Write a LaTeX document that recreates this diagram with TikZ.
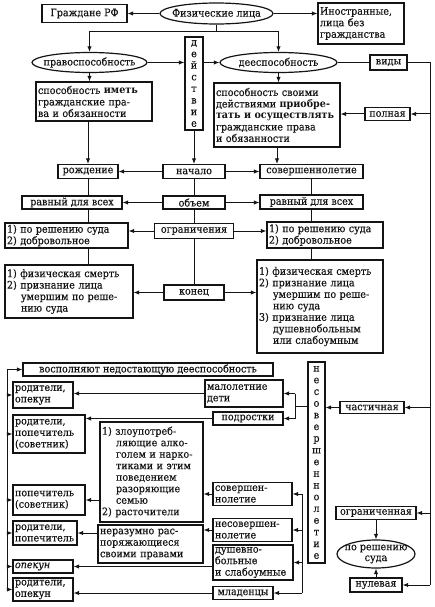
\documentclass[tikz,border=0pt]{standalone}
\usepackage{fontspec}
\setmainfont{DejaVu Serif}[FakeStretch=0.92, UprightFeatures={FakeBold=0.35}, ItalicFeatures={FakeBold=0.35}]
\usetikzlibrary{arrows.meta,shapes.geometric}
\definecolor{ink}{HTML}{141414}
\newcommand{\ff}{\fontsize{10.4}{11.5}\selectfont}
\newcommand{\fv}{\fontsize{10.4}{11.6}\selectfont}
\newcommand{\fvv}{\fontsize{10.4}{11.7}\selectfont}
\newcommand{\fe}{\fontsize{10.4}{10.8}\selectfont}
\newcommand{\hind}{\hspace*{1.344em}}
\newcommand{\zb}[1]{\makebox[0pt]{#1}}
\begin{document}
\begin{tikzpicture}[x=1pt,y=-1pt,
  every node/.style={text=ink},
  box/.style={draw=ink, line width=1.2pt, inner xsep=2pt, inner ysep=0.5pt, font=\ff, fill=white},
  lbox/.style={box, align=left},
  ell/.style={draw=ink, ellipse, line width=1.2pt, inner sep=0pt, font=\ff, fill=white},
  vbox/.style={box, align=center, inner xsep=0pt, inner ysep=0pt},
  arr/.style={draw=ink, line width=1pt, -{Latex[length=5.5pt,width=4.5pt]}},
  ln/.style={draw=ink, line width=1pt}]
\useasboundingbox[fill=white] (0,0) rectangle (434,607);

% ---------- top part ----------
\node[box, minimum width=85pt, minimum height=18pt] (grazh) at (84.5,13.5) {Граждане РФ};
\node[ell, minimum width=113pt, minimum height=21pt] (fiz) at (216.5,13.5) {\zb{Физические лица}};
\node[lbox, text width=82pt, minimum height=41pt] (inostr) at (361,23.5) {Иностранные,\\лица без\\гражданства};

\node[ell, minimum width=115pt, minimum height=20pt] (pravo) at (89.5,62.5) {\zb{правоспособность}};
\node[vbox, font=\fv, minimum width=18pt, minimum height=93pt] (deystv) at (194,83.5) {д\\е\\й\\с\\т\\в\\и\\е};
\node[ell, minimum width=117pt, minimum height=20pt] (deesp) at (278.5,62.5) {\zb{дееспособность}};
\node[box, minimum width=37pt, minimum height=15pt] (vidy) at (388.5,62.5) {виды};

\node[lbox, text width=112pt, minimum height=39pt] (spos1) at (94,101.5) {\mbox{способность \textbf{иметь}}\\\mbox{гражданские пра-}\\\mbox{ва и обязанности}};
\node[lbox, text width=122pt, minimum height=64pt] (spos2) at (277,115) {\mbox{способность своими}\\\mbox{действиями \textbf{приобре-}}\\\mbox{\textbf{тать и осуществлять}}\\\mbox{гражданские права}\\\mbox{и обязанности}};
\node[box, minimum width=45pt, minimum height=13pt] (polnaya) at (387.5,114) {полная};

\node[box, minimum width=60pt, minimum height=14pt] (rozhd) at (88,171.5) {рождение};
\node[box, minimum width=62pt, minimum height=14pt] (nachalo) at (194,171.5) {начало};
\node[box, minimum width=103pt, minimum height=14pt] (sovnol) at (311.5,171.5) {совершеннолетие};

\node[box, minimum width=100pt, minimum height=13pt] (ravn1) at (72,202.5) {равный для всех};
\node[box, minimum width=62pt, minimum height=13pt] (obem) at (194,202.5) {объем};
\node[box, minimum width=103pt, minimum height=14pt] (ravn2) at (311.5,202) {равный для всех};

\node[lbox, text width=119pt, minimum height=25pt] (ogr1) at (66.5,235.5) {1) по решению суда\\2) добровольное};
\node[box, minimum width=79pt, minimum height=15pt] (ogranich) at (194,231) {ограничения};
\node[lbox, text width=112pt, minimum height=26pt] (ogr2) at (325,235) {1) по решению суда\\2) добровольное};

\node[lbox, text width=124pt, minimum height=53pt] (smert1) at (69,291.5) {\mbox{1) физическая смерть}\\2) признание лица\\\hind умершим по реше-\\\hind нию суда};
\node[box, minimum width=60pt, minimum height=15pt] (konec) at (194,292.5) {конец};
\node[lbox, text width=122pt, minimum height=93pt] (smert2) at (320,306.5) {\mbox{1) физическая смерть}\\2) признание лица\\\hind умершим по реше-\\\hind нию суда\\3) признание лица\\\hind душевнобольным\\\hind или слабоумным};

% ---------- lower part ----------
\node[box, minimum width=250pt, minimum height=13pt] (vospoln) at (148,369.5) {восполняют недостающую дееспособность};

\node[lbox, text width=56pt, minimum height=26pt] (rodop1) at (43,395) {родители,\\опекун};
\node[lbox, text width=68pt, minimum height=38pt] (rodpopsov) at (49,434) {родители,\\попечитель\\(советник)};
\node[lbox, text width=68pt, minimum height=30pt] (popsov) at (49,500) {попечитель\\(советник)};
\node[lbox, text width=60pt, minimum height=24pt] (rodpop) at (45,533) {родители,\\попечитель};
\node[lbox, text width=56pt, minimum height=13pt] (opekun) at (43,566.5) {\textit{опекун}};
\node[lbox, text width=56pt, minimum height=23pt] (rodop2) at (43,589.5) {родители,\\опекун};

\node[lbox, text width=99pt, minimum height=100pt] (alk) at (151.5,472) {1) злоупотреб-\\\hind ляющие алко-\\\hind голем и нарко-\\\hind тиками и этим\\\hind поведением\\\hind разоряющие\\\hind семью\\2) расточители};
\node[lbox, text width=101pt, minimum height=38pt] (nerazum) at (150.5,544) {\mbox{неразумно рас-}\\поряжающиеся\\\mbox{своими правами}};

\node[lbox, text width=74pt, minimum height=27pt] (malol) at (244,393.5) {малолетние\\дети};
\node[box, minimum width=70pt, minimum height=13pt] (podr) at (248,418.5) {подростки};
\node[lbox, text width=75pt, minimum height=23pt] (sovnol2) at (252.5,494) {совершен-\\нолетие};
\node[lbox, text width=75pt, minimum height=23pt] (nesov2) at (252.5,530) {несовершен-\\нолетие};
\node[lbox, text width=76pt, minimum height=35pt] (dushev) at (253,562.5) {душевно-\\больные\\\mbox{и слабоумные}};
\node[box, minimum width=60pt, minimum height=13pt] (mlad) at (243,593) {младенцы};

\node[vbox, font=\fvv, minimum width=17pt, minimum height=201pt] (nesov) at (316.5,462.5) {н\\е\\с\\о\\в\\е\\р\\ш\\е\\н\\н\\о\\л\\е\\т\\и\\е};

\node[box, minimum width=64pt, minimum height=12pt] (chast) at (372,407.5) {частичная};
\node[box, minimum width=80pt, minimum height=13pt] (ogran) at (376,513) {ограниченная};
\node[ell, minimum width=78pt, minimum height=28pt] (posud) at (376,554) {};
\node[font=\fe, align=center, inner sep=0pt] (posudt) at (posud.center) {по решению\\суда};
\node[box, minimum width=52pt, minimum height=14pt] (nul) at (376,585) {нулевая};

% ---------- coordinates ----------
\coordinate (j) at (216.5,32);
\coordinate (rv) at (430,62.5);
\coordinate (rb) at (430,585);
\coordinate (lt) at (7,369.5);
\coordinate (lb) at (7,589.5);
\coordinate (ubt) at (295,393.5);
\coordinate (ubm) at (295,406);
\coordinate (ubb) at (295,418.5);
\coordinate (lbt) at (302,494);
\coordinate (lbb) at (302,593);

% ---------- connectors top ----------
\draw[arr] (fiz.west) -- (grazh.east);
\draw[arr] (fiz.east) -- (fiz.east -| inostr.west);
\draw[ln] (fiz.south) -- (j);
\draw[arr] (j) -| (pravo.north);
\draw[arr] (j) -| (deesp.north);
\draw[arr] (pravo.east) -- (pravo.east -| deystv.west);
\draw[arr] (deesp.west -| deystv.east) -- (deesp.west);
\draw[ln] (deesp.east) -- (vidy.west);
\draw[ln] (vidy.east) -- (rv) -- (rb);
\draw[arr] (rb) -- (nul.east);
\draw[arr] (rv |- polnaya.east) -- (polnaya.east);
\draw[arr] (polnaya.west) -- (polnaya.west -| spos2.east);
\draw[arr] (rv |- chast.east) -- (chast.east);
\draw[arr] (chast.west) -- (chast.west -| nesov.east);
\draw[arr] (rv |- ogran.east) -- (ogran.east);
\draw[arr] (ogran.south) -- (posud.north);
\draw[arr] (nul.north) -- (posud.south);

\draw[arr] (pravo.south) -- (pravo.south |- spos1.north);
\draw[arr] (deesp.south) -- (deesp.south |- spos2.north);
\draw[arr] (spos1.south -| rozhd.north) -- (rozhd.north);
\draw[arr] (deystv.south) -- (nachalo.north);
\draw[arr] (spos2.south) -- (spos2.south |- sovnol.north);
\draw[arr] (nachalo.west) -- (rozhd.east);
\draw[arr] (nachalo.east) -- (sovnol.west);
\draw[ln] (nachalo.south) -- (obem.north);
\draw[ln] (rozhd.south) -- (rozhd.south |- ravn1.north);
\draw[ln] (sovnol.south) -- (sovnol.south |- ravn2.north);
\draw[arr] (obem.west) -- (obem.west -| ravn1.east);
\draw[arr] (obem.east) -- (obem.east -| ravn2.west);
\draw[ln] (obem.south) -- (ogranich.north);
\draw[ln] (rozhd.south |- ravn1.south) -- (rozhd.south |- ogr1.north);
\draw[ln] (sovnol.south |- ravn2.south) -- (sovnol.south |- ogr2.north);
\draw[arr] (ogranich.west) -- (ogranich.west -| ogr1.east);
\draw[arr] (ogranich.east) -- (ogranich.east -| ogr2.west);
\draw[ln] (ogranich.south) -- (konec.north);
\draw[ln] (rozhd.south |- ogr1.south) -- (rozhd.south |- smert1.north);
\draw[ln] (sovnol.south |- ogr2.south) -- (sovnol.south |- smert2.north);
\draw[arr] (konec.west) -- (konec.west -| smert1.east);
\draw[arr] (konec.east) -- (konec.east -| smert2.west);

% ---------- connectors lower ----------
\draw[ln] (lt) -- (lb);
\draw[arr] (lt) -- (vospoln.west);
\draw[arr] (lt |- rodop1.west) -- (rodop1.west);
\draw[arr] (lt |- rodpopsov.west) -- (rodpopsov.west);
\draw[arr] (lt |- popsov.west) -- (popsov.west);
\draw[arr] (lt |- rodpop.west) -- (rodpop.west);
\draw[arr] (lt |- opekun.west) -- (opekun.west);
\draw[arr] (lb) -- (rodop2.west);

\draw[arr] (malol.west) -- (malol.west -| rodop1.east);
\draw[arr] (podr.west) -- (podr.west -| rodpopsov.east);
\draw[ln] (ubt) -- (ubb);
\draw[ln] (nesov.west |- ubm) -- (ubm);
\draw[arr] (ubt) -- (malol.east);
\draw[arr] (ubb) -- (podr.east);

\draw[ln] (lbt) -- (lbb);
\draw[arr] (lbt) -- (sovnol2.east);
\draw[arr] (lbt |- nesov2.east) -- (nesov2.east);
\draw[arr] (lbt |- dushev.east) -- (dushev.east);
\draw[arr] (lbb) -- (mlad.east);

\draw[arr] (sovnol2.west) -- (sovnol2.west -| alk.east);
\draw[arr] (alk.west |- popsov.east) -- (popsov.east);
\draw[arr] (nesov2.west) -- (nesov2.west -| nerazum.east);
\draw[arr] (nerazum.west |- rodpop.east) -- (rodpop.east);
\draw[arr] (dushev.west |- opekun.east) -- (opekun.east);
\draw[arr] (mlad.west) -- (mlad.west -| rodop2.east);
\end{tikzpicture}
\end{document}
